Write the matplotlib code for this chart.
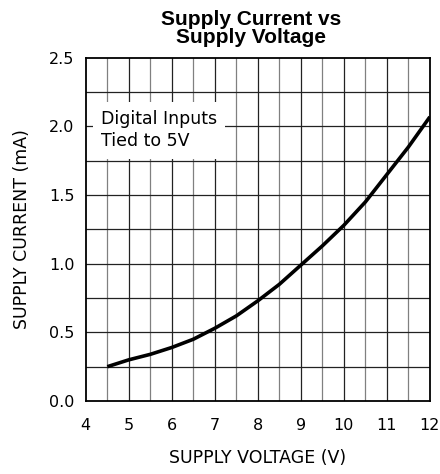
import numpy as np
import matplotlib
matplotlib.use("Agg")
import matplotlib.pyplot as plt

# courbe
voltage = [4.5, 5.0, 5.5, 6.0, 6.5, 7.0, 7.5, 8.0, 8.5, 9.0, 9.5, 10.0, 10.5, 11.0, 11.5, 12.0]
current = [0.25, 0.30, 0.34, 0.39, 0.45, 0.53, 0.62, 0.73, 0.85, 0.99, 1.13, 1.28, 1.45, 1.65, 1.85, 2.07]

x_ticks = [4, 5, 6, 7, 8, 9, 10, 11, 12]
y_ticks = [0.0, 0.5, 1.0, 1.5, 2.0, 2.5]

SANS = "DejaVu Sans"

fig = plt.figure(figsize=(4.4, 4.74), dpi=100)
ax = fig.add_axes([0.195, 0.154, 0.782, 0.724])

# grille : tous les 0.5 V et 0.25 mA
for v in np.arange(4.5, 12, 0.5):
    col = "#222222" if v % 1 == 0 else "#808080"
    ax.axvline(v, color=col, lw=0.9, zorder=1)
for c in np.arange(0.25, 2.5, 0.25):
    ax.axhline(c, color="#222222", lw=0.9, zorder=1)

ax.plot(voltage, current, color="black", lw=2.6, zorder=3, solid_capstyle="butt")

ax.set_xlim(4, 12)
ax.set_ylim(0, 2.5)
ax.set_xticks(x_ticks)
ax.set_yticks(y_ticks)
ax.set_xticklabels([str(t) for t in x_ticks], family=SANS, fontsize=11.5)
ax.set_yticklabels([f"{t:.1f}" for t in y_ticks], family=SANS, fontsize=11.5)
ax.tick_params(axis="x", length=0, pad=12)
ax.tick_params(axis="y", length=0, pad=8)
for s in ax.spines.values():
    s.set_linewidth(1.3)

ax.set_xlabel("SUPPLY VOLTAGE (V)", family=SANS, fontsize=12.5, labelpad=12)
ax.set_ylabel("SUPPLY CURRENT (mA)", family=SANS, fontsize=12.5, labelpad=13)

ax.text(4.35, 2.12, "Digital Inputs\nTied to 5V", family=SANS,
        fontsize=12.5, va="top", ha="left", linespacing=1.3, zorder=2,
        bbox=dict(facecolor="white", edgecolor="none", pad=6))

fig.text(0.571, 0.978, "Supply Current vs\nSupply Voltage", ha="center",
         va="top", fontsize=15, fontweight="bold", family="Liberation Sans",
         linespacing=0.9)

fig.savefig("out.png", dpi=100)
